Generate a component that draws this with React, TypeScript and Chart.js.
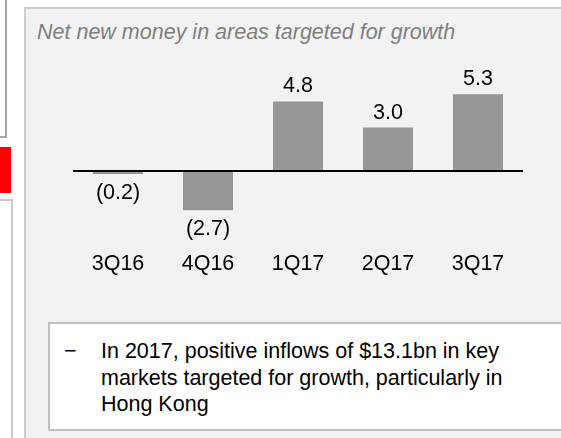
import React, { useEffect, useRef } from "react";
import { Chart, registerables } from "chart.js";

Chart.register(...registerables);

// ---- data ----
const categories: string[] = ["3Q16", "4Q16", "1Q17", "2Q17", "3Q17"];
const netNewMoney: number[] = [-0.2, -2.7, 4.8, 3.0, 5.3];
const titleText = "Net new money in areas targeted for growth";
const noteLines: string[] = [
  "In 2017, positive inflows of $13.1bn in key",
  "markets targeted for growth, particularly in",
  "Hong Kong",
];

const FONT = '"Liberation Sans", Arial, Helvetica, sans-serif';
const FS = 21.5;

const fmt = (v: number) => (v < 0 ? `(${Math.abs(v).toFixed(1)})` : v.toFixed(1));

const zeroLine = {
  id: "zeroLine",
  afterDatasetsDraw(chart: any) {
    const { ctx, chartArea } = chart;
    const y = Math.round(chart.scales.y.getPixelForValue(0));
    ctx.save();
    ctx.fillStyle = "#000";
    ctx.fillRect(chartArea.left, y - 1, chartArea.right - chartArea.left, 2);
    ctx.restore();
  },
};

const valueLabels = {
  id: "valueLabels",
  afterDatasetsDraw(chart: any) {
    const { ctx } = chart;
    const meta = chart.getDatasetMeta(0);
    const data = chart.data.datasets[0].data as number[];
    ctx.save();
    ctx.font = `${FS}px ${FONT}`;
    ctx.fillStyle = "#000";
    ctx.textAlign = "center";
    ctx.textBaseline = "alphabetic";
    meta.data.forEach((bar: any, i: number) => {
      const v = data[i];
      const y = v >= 0 ? bar.y - 9 : bar.y + 25;
      ctx.fillText(fmt(v), bar.x, y);
    });
    ctx.restore();
  },
};

function NnmChart() {
  const ref = useRef<HTMLCanvasElement | null>(null);
  useEffect(() => {
    if (!ref.current) return;
    const chart = new Chart(ref.current, {
      type: "bar",
      data: {
        labels: categories,
        datasets: [
          {
            data: netNewMoney,
            backgroundColor: "#969696",
            borderWidth: 0,
            barPercentage: 0.556,
            categoryPercentage: 1,
          },
        ],
      },
      options: {
        animation: false,
        responsive: false,
        devicePixelRatio: 1,
        layout: { padding: { left: 73, right: 38, top: 69.5, bottom: 25.4 } },
        plugins: {
          legend: { display: false },
          tooltip: { enabled: false },
          title: { display: false },
        },
        scales: {
          x: {
            grid: { display: false, drawTicks: false },
            border: { display: false },
            ticks: {
              font: { family: FONT, size: FS },
              color: "#000",
              padding: 37.15,
              maxRotation: 0,
              autoSkip: false,
            },
          },
          y: { display: false, min: -3, max: 7 },
        },
      },
      plugins: [zeroLine, valueLabels],
    });
    return () => chart.destroy();
  }, []);
  return (
    <canvas
      ref={ref}
      width={561}
      height={340}
      style={{ position: "absolute", left: 0, top: 0, width: 561, height: 340 }}
    />
  );
}

export default function App() {
  return (
    <div
      style={{
        position: "fixed",
        left: 0,
        top: 0,
        width: 561,
        height: 438,
        overflow: "hidden",
        background: "#fff",
        fontFamily: FONT,
      }}
    >
      {/* left-edge fragments of neighbouring slide elements */}
      <div
        style={{
          position: "absolute",
          left: -30,
          top: -30,
          width: 33,
          height: 164,
          border: "2px solid #a6a6a6",
        }}
      />
      <div style={{ position: "absolute", left: 0, top: 147, width: 11, height: 46, background: "#ff0000" }} />
      <div
        style={{
          position: "absolute",
          left: -30,
          top: 199,
          width: 39,
          height: 400,
          border: "2px solid #c8c8c8",
        }}
      />
      {/* grey panel */}
      <div
        style={{
          position: "absolute",
          left: 24,
          top: 7,
          width: 700,
          height: 600,
          background: "#f2f2f2",
          border: "2px solid #cfcfcf",
        }}
      />
      <div
        style={{
          position: "absolute",
          left: 37,
          top: 21.5,
          fontSize: FS,
          lineHeight: "21.5px",
          fontStyle: "italic",
          color: "#7f7f7f",
          whiteSpace: "nowrap",
        }}
      >
        {titleText}
      </div>
      <NnmChart />
      {/* note box */}
      <div
        style={{
          position: "absolute",
          left: 48,
          top: 322,
          width: 700,
          height: 105,
          background: "#fff",
          border: "2px solid #bfbfbf",
        }}
      />
      <div
        style={{
          position: "absolute",
          left: 64,
          top: 338,
          fontSize: FS,
          lineHeight: "26.5px",
          color: "#000",
        }}
      >
        {"\u2212"}
      </div>
      <div
        style={{
          position: "absolute",
          left: 101,
          top: 338,
          fontSize: FS,
          lineHeight: "26.5px",
          color: "#000",
          whiteSpace: "nowrap",
        }}
      >
        {noteLines.map((l, i) => (
          <div key={i}>{l}</div>
        ))}
      </div>
    </div>
  );
}
